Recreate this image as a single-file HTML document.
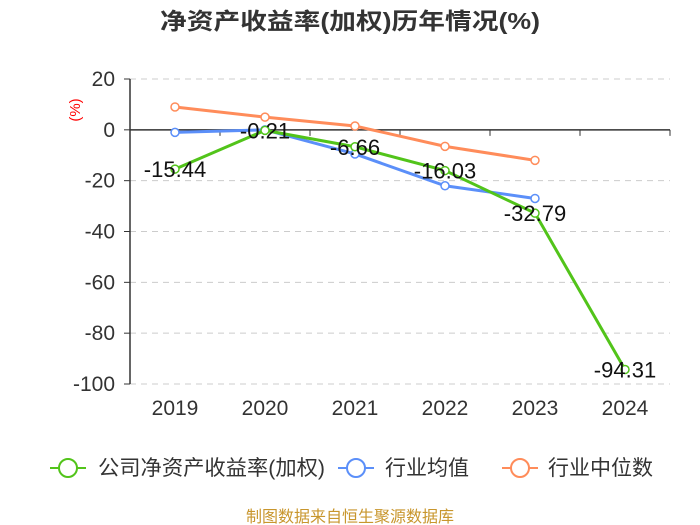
<!DOCTYPE html>
<html><head><meta charset="utf-8"><style>
body{margin:0;background:#fff;}
svg{display:block;font-family:"Liberation Sans","Noto Sans CJK SC",sans-serif;}
</style></head><body>
<svg id="c" width="700" height="525" viewBox="0 0 700 525" xmlns="http://www.w3.org/2000/svg">
<text x="350" y="29" text-anchor="middle" font-size="23" font-weight="bold" fill="#333" textLength="380" lengthAdjust="spacingAndGlyphs">净资产收益率(加权)历年情况(%)</text>
<text transform="translate(80,110) rotate(-90)" text-anchor="middle" font-size="15" fill="#f00">(%)</text>
<g id="grid"></g><g id="axes"></g><g id="series"></g>
<g>
<g><line x1="50" y1="468" x2="86" y2="468" stroke="#52c41a" stroke-width="2"/><circle cx="68" cy="468" r="9" fill="#fff" stroke="#52c41a" stroke-width="2"/><text x="98" y="475" font-size="21" fill="#333" textLength="227" lengthAdjust="spacingAndGlyphs">公司净资产收益率(加权)</text></g>
<g><line x1="338" y1="468" x2="374" y2="468" stroke="#5b8ff9" stroke-width="2"/><circle cx="356" cy="468" r="9" fill="#fff" stroke="#5b8ff9" stroke-width="2"/><text x="385" y="475" font-size="21" fill="#333">行业均值</text></g>
<g><line x1="502" y1="468" x2="538" y2="468" stroke="#ff8c5a" stroke-width="2"/><circle cx="520" cy="468" r="9" fill="#fff" stroke="#ff8c5a" stroke-width="2"/><text x="548" y="475" font-size="21" fill="#333">行业中位数</text></g>
</g>
<text x="350" y="522" text-anchor="middle" font-size="16" fill="#c8962d">制图数据来自恒生聚源数据库</text>
</svg>
<script>
const categories=["2019","2020","2021","2022","2023","2024"];
const roe=[-15.44,-0.21,-6.66,-16.03,-32.79,-94.31];
const industryMean=[-1,0,-9.5,-22,-27,null];
const industryMedian=[9,5,1.5,-6.5,-12,null];
const yTicks=[20,0,-20,-40,-60,-80,-100];
const NS="http://www.w3.org/2000/svg";
const x0=130,band=90,yTop=79,yBottom=384,vMax=20,vMin=-100;
function xs(i){return x0+band*(i+0.5);}
function ys(v){return yTop+(vMax-v)*(yBottom-yTop)/(vMax-vMin);}
function mk(t,a,p){const e=document.createElementNS(NS,t);for(const k in a)e.setAttribute(k,a[k]);p.appendChild(e);return e;}
const grid=document.getElementById('grid'),axes=document.getElementById('axes'),ser=document.getElementById('series');
const xEnd=x0+band*categories.length;
yTicks.forEach(v=>{
 if(v!==0){const l=mk('line',{x1:x0,x2:xEnd,y1:ys(v),y2:ys(v),stroke:'#ccc','stroke-dasharray':'6,5'},grid);
 
 }
 mk('line',{x1:x0-6,x2:x0,y1:ys(v),y2:ys(v),stroke:'#333'},axes);
 const t=mk('text',{x:x0-15,y:ys(v)+7,'text-anchor':'end','font-size':21,fill:'#333'},axes);t.textContent=v;
 
 
});
const ya=mk('line',{x1:x0,x2:x0,y1:yTop,y2:yBottom,stroke:'#333','stroke-width':1.5},axes);


const xa=mk('line',{x1:x0,x2:xEnd,y1:ys(0),y2:ys(0),stroke:'#333','stroke-width':1.5},axes);


categories.forEach((c,i)=>{
 mk('line',{x1:x0+band*(i+1),x2:x0+band*(i+1),y1:ys(0),y2:ys(0)+6,stroke:'#333'},axes);
 const t=mk('text',{x:xs(i),y:415,'text-anchor':'middle','font-size':21,fill:'#333'},axes);t.textContent=c;
 
 
});
function series(vals,color,name,showMarkers){
 const pts=[];vals.forEach((v,i)=>{if(v!==null)pts.push([xs(i),ys(v)]);});
 const p=mk('polyline',{points:pts.map(p=>p.join(',')).join(' '),fill:'none',stroke:color,'stroke-width':3},ser);
 
 
 if(showMarkers)pts.forEach(q=>{const c=mk('circle',{cx:q[0],cy:q[1],r:4,fill:'#fff',stroke:color,'stroke-width':1.5},ser);
  
  });
}
series(industryMedian,'#ff8c5a','industry-median',true);
series(industryMean,'#5b8ff9','industry-mean',true);
series(roe,'#52c41a','roe',true);
roe.forEach((v,i)=>{const t=mk('text',{x:xs(i),y:ys(v)+8,'text-anchor':'middle','font-size':22,fill:'#111'},ser);t.textContent=v.toFixed(2);
 
 });
</script>
</body></html>
